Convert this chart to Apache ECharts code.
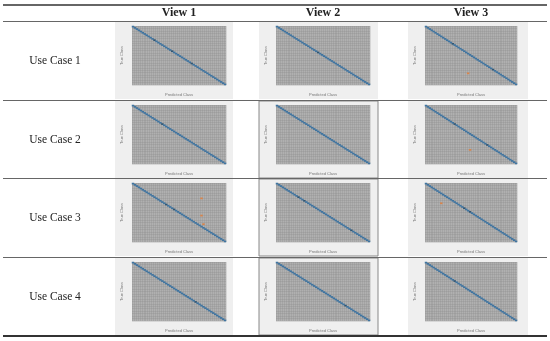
<!DOCTYPE html>
<html><head><meta charset="utf-8">
<script src="https://cdn.jsdelivr.net/npm/echarts@6/dist/echarts.min.js"></script>
<style>html,body{margin:0;padding:0;background:#fff}#c{width:550px;height:341px}</style>
</head><body><div id="c"></div>
<script>
// ---- data ----
const views = ['View 1', 'View 2', 'View 3'];
const useCases = ['Use Case 1', 'Use Case 2', 'Use Case 3', 'Use Case 4'];
const nClasses = 48;
const classLabels = Array.from({length: nClasses}, (_, i) => 'C' + (i + 1));
// misclassified cells [predicted, true] per use case, per view
const errorsView1 = [[], [], [[35, 12], [35, 26], [36, 33]], []];
const errorsView2 = [[], [], [], []];
const errorsView3 = [[[22, 38]], [[23, 36]], [[8, 16]], []];
// diagonal classes with slightly lower accuracy (darker dots)
const weakView1 = [[11, 20, 30], [15], [17, 21], [32]];
const weakView2 = [[21], [], [11, 14, 38], [35]];
const weakView3 = [[14, 35], [15, 32], [20, 23], [15]];

// ---- layout ----
const rowTop = [21, 100, 178, 257];
const plotLeft = [132, 276, 425];
const plotW = [94, 94, 92];
const panelX = [115, 259, 408];
const panelW = [118, 119, 120];
const framed = [[false, false, false], [false, true, false], [false, true, false], [false, true, false]];

const errs = [errorsView1, errorsView2, errorsView3];
const weak = [weakView1, weakView2, weakView3];

const grids = [], xAxes = [], yAxes = [], series = [], graphics = [];
let k = 0;
for (let r = 0; r < 4; r++) {
  for (let c = 0; c < 3; c++) {
    graphics.push({type: 'rect', z: -10, shape: {x: panelX[c], y: rowTop[r] + 1, width: panelW[c], height: 77},
      style: {fill: '#efefef', stroke: framed[r][c] ? '#888' : null, lineWidth: 1}});
    grids.push({left: plotLeft[c], top: rowTop[r] + 5, width: plotW[c], height: 59,
      show: true, backgroundColor: '#b0b0b0', borderWidth: 0});
    xAxes.push({type: 'category', gridIndex: k, data: classLabels,
      name: 'Predicted Class', nameLocation: 'middle', nameGap: 8,
      nameTextStyle: {fontSize: 4, color: '#777', fontFamily: 'Liberation Sans'},
      axisLine: {show: false}, axisTick: {show: false}, axisLabel: {show: false},
      splitLine: {show: true, interval: 0, lineStyle: {color: 'rgba(130,130,130,0.45)', width: 0.5}}});
    yAxes.push({type: 'category', gridIndex: k, data: classLabels, inverse: true,
      name: 'True Class', nameLocation: 'middle', nameGap: 8,
      nameTextStyle: {fontSize: 4, color: '#777', fontFamily: 'Liberation Sans'},
      axisLine: {show: false}, axisTick: {show: false}, axisLabel: {show: false},
      splitLine: {show: true, interval: 1, lineStyle: {color: 'rgba(130,130,130,0.45)', width: 0.5}}});
    const data = [];
    for (let i = 0; i < nClasses; i++) {
      data.push([i, i, weak[c][r].includes(i) ? 1.5 : 2]);
    }
    errs[c][r].forEach(e => data.push([e[0], e[1], 1]));
    series.push({type: 'heatmap', xAxisIndex: k, yAxisIndex: k, data: data,
      emphasis: {disabled: true}, progressive: 0});
    k++;
  }
}
views.forEach((v, c) => graphics.push({type: 'text', x: plotLeft[c] + plotW[c] / 2, y: 13,
  style: {text: v, font: 'bold 12px "Liberation Serif", "DejaVu Serif", serif', fill: '#222', textAlign: 'center', textVerticalAlign: 'middle'}}));
useCases.forEach((u, r) => graphics.push({type: 'text', x: 55, y: rowTop[r] + 40,
  style: {text: u, font: '11.5px "Liberation Serif", "DejaVu Serif", serif', fill: '#222', textAlign: 'center', textVerticalAlign: 'middle'}}));
const hl = (y, w, col) => graphics.push({type: 'line', shape: {x1: 3, y1: y, x2: 547, y2: y}, style: {stroke: col, lineWidth: w}});
hl(5, 1.5, '#333'); hl(21.5, 1, '#666'); hl(100.5, 1, '#666'); hl(178.5, 1, '#666'); hl(257.5, 1, '#666'); hl(336, 2, '#333');

const chart = echarts.init(document.getElementById('c'), null, {renderer: 'canvas'});
chart.setOption({
  animation: false,
  grid: grids, xAxis: xAxes, yAxis: yAxes, series: series,
  visualMap: {show: false, type: 'piecewise', dimension: 2,
    pieces: [{value: 1, color: '#d9844a'}, {value: 1.5, color: '#2f5675'}, {value: 2, color: '#3f74a0'}]},
  graphic: graphics
});
</script></body></html>
